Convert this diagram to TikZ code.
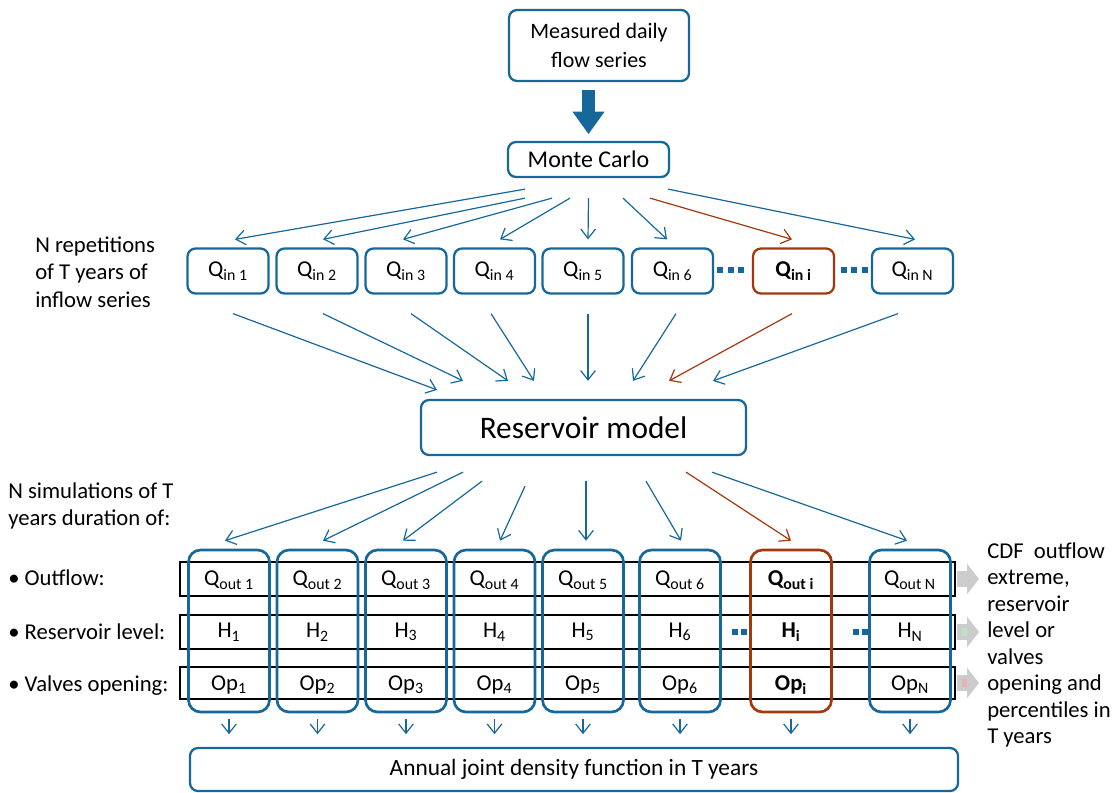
\documentclass[tikz,border=0pt]{standalone}
\usepackage{fontspec}
\setmainfont{Carlito}
\usetikzlibrary{arrows.meta,positioning}
\definecolor{flowblue}{RGB}{22,104,154}
\definecolor{flowred}{RGB}{163,56,14}
\definecolor{arrgray}{RGB}{204,204,204}
\definecolor{tintgreen}{RGB}{190,226,198}
\definecolor{tintred}{RGB}{230,178,178}

\begin{document}
\begin{tikzpicture}[x=0.75pt,y=-0.75pt,
  box/.style={draw=flowblue,line width=1.7pt,rounded corners=6pt,align=center,inner sep=2pt},
  qbox/.style={box,minimum width=60.75pt,minimum height=33.75pt,font=\fontsize{17}{19}\selectfont},
  colbox/.style={draw=flowblue,line width=2pt,rounded corners=9pt,minimum width=60.75pt,minimum height=121.5pt},
  rowbox/.style={draw=black,line width=0.8pt,minimum width=581.25pt},
  cell/.style={font=\fontsize{17}{19}\selectfont,inner sep=1pt},
  sidetext/.style={align=left,anchor=west,inner sep=0pt},
  flow/.style={-{Straight Barb[length=7pt,width=11pt]},flowblue,line width=0.9pt},
  grayarrow/.style={arrgray,line width=12.5pt,-{Triangle[length=9pt,width=22.5pt]}},
]
\useasboundingbox (0,0) rectangle (1119,792);

%%Top
\node[box,minimum width=135pt,minimum height=53.25pt,font=\fontsize{16.5}{21.5}\selectfont] (meas) at (599,45.5) {Measured daily\\flow series};
\node[box,minimum width=120.75pt,minimum height=26.25pt,font=\fontsize{18}{21}\selectfont] (mc) at (588.5,159.5) {Monte Carlo};
\draw[flowblue,line width=10pt,-{Triangle[length=17pt,width=23pt]},shorten <=6pt,shorten >=5pt] (mc |- meas.south) -- (mc.north);

%%Inflow series
\foreach \x/\n in {228/1, 317/2, 406/3, 494.5/4, 583/5, 672.5/6, 912.5/N}
  \node[qbox] (qin\n) at (\x,271) {Q\textsubscript{in \n}};
\node[qbox,draw=flowred] (qini) at (793.5,271) {\textbf{Q\textsubscript{in i}}};
\foreach \x in {717,728,738,841,851,862}
  \fill[flowblue] (\x,267) rectangle +(6,6);

\node[sidetext,font=\fontsize{17}{20.5}\selectfont] (reps) at (35,272) {N repetitions\\of T years of\\inflow series};

\foreach \sx/\sy/\n/\ex in {-63.5/11/1/7, -63.5/20/2/6, -36.5/20/3/-3, -18.5/20/4/5.5, 0/20/5/5, 34.5/20/6/-5.5, 79.5/11/N/2.5}
  \draw[flow] ([shift={(\sx,\sy)}]mc.south) -- ([shift={(\ex,-8)}]qin\n.north);
\draw[flow,flowred] ([shift={(61.5,20)}]mc.south) -- ([shift={(-1.5,-8)}]qini.north);

%%Reservoir model
\node[box,minimum width=243.75pt,minimum height=41.25pt,font=\fontsize{23.5}{26}\selectfont] (res) at (583.5,427.5) {Reservoir model};

\foreach \n/\sx/\ex/\ey in {1/5/-146.5/-9, 2/6/-120.5/-18, 3/5/-75.5/-18, 4/-3.5/-49.5/-18, 5/5/4.5/-18, 6/3.5/49.5/-18, N/-14.5/129.5/-18}
  \draw[flow] ([shift={(\sx,19)}]qin\n.south) -- ([shift={(\ex,\ey)}]res.north);
\draw[flow,flowred] ([shift={(-1.5,19)}]qini.south) -- ([shift={(85.5,-18)}]res.north);

%%Simulations
\node[sidetext,font=\fontsize{17}{20.5}\selectfont] (sims) at (8,506) {N simulations of T\\years duration of:};
\node[sidetext,font=\fontsize{17}{20.5}\selectfont] (lout) at (8,578) {\textbullet{} Outflow:};
\node[sidetext,font=\fontsize{17}{20.5}\selectfont] (llev) at (8,632) {\textbullet{} Reservoir level:};
\node[sidetext,font=\fontsize{17}{20.5}\selectfont] (lval) at (8,686) {\textbullet{} Valves opening:};

\node[rowbox,minimum height=25.5pt] (row1) at (567.5,579) {};
\node[rowbox,minimum height=25.5pt] (row2) at (567.5,632) {};
\node[rowbox,minimum height=24pt] (row3) at (567.5,683) {};

\foreach \x/\n in {229/1, 317.5/2, 406/3, 494.5/4, 583/5, 680/6, 910/N}
  \node[colbox] (col\n) at (\x,631) {};
\node[colbox,draw=flowred] (coli) at (791,631) {};

\foreach \x/\n in {229/1, 317.5/2, 406/3, 494.5/4, 583/5, 680/6, 910/N} {
  \node[cell] (qout\n) at (\x,580) {Q\textsubscript{out \n}};
  \node[cell] (h\n) at (\x,632) {H\textsubscript{\n}};
  \node[cell] (op\n) at (\x,685) {Op\textsubscript{\n}};
}
\node[cell] (qouti) at (791,580) {\textbf{Q\textsubscript{out i}}};
\node[cell] (hi) at (791,632) {\textbf{H\textsubscript{i}}};
\node[cell] (opi) at (791,685) {\textbf{Op\textsubscript{i}}};
\foreach \x in {732,741,853,862}
  \fill[flowblue] (\x,629) rectangle +(6,6);

\foreach \n/\sx/\sy/\ex in {1/-146.5/16/-4, 2/-120.5/16/5.5, 3/-101.5/25/-3, 4/-58.5/30/5.5, 5/2.5/25/3, 6/62.5/25/1, N/128.5/16/-3}
  \draw[flow] ([shift={(\sx,\sy)}]res.south) -- ([shift={(\ex,-8)}]col\n.north);
\draw[flow,flowred] ([shift={(102.5,16)}]res.south) -- ([shift={(0,-8)}]coli.north);

%%Right side
\node[sidetext,font=\fontsize{17}{19.9}\selectfont] (cdf) at (987,645) {CDF\ \ outflow\\extreme,\\reservoir\\level or\\valves\\opening and\\percentiles in\\T years};
\draw[grayarrow,shorten <=1pt,shorten >=6pt] (row1.east) -- (row1.east -| cdf.west);
\draw[grayarrow,shorten <=1pt,shorten >=6pt] (row2.east) -- (row2.east -| cdf.west);
\draw[grayarrow,shorten <=1pt,shorten >=6pt] (row3.east) -- (row3.east -| cdf.west);
\draw[tintgreen,line width=6pt,shorten <=5pt,shorten >=15pt] (row2.east) -- (row2.east -| cdf.west);
\draw[tintred,line width=6pt,shorten <=5pt,shorten >=15pt] (row3.east) -- (row3.east -| cdf.west);

%%Bottom
\node[box,minimum width=576pt,minimum height=32.25pt,font=\fontsize{17.5}{20}\selectfont] (dens) at (574,769.5) {Annual joint density function in T years};
\foreach \n in {1,2,3,4,5,6,i,N}
  \draw[flow,shorten <=4.5pt,shorten >=9.5pt] (col\n.south) -- (col\n.south |- dens.north);
\end{tikzpicture}
\end{document}
